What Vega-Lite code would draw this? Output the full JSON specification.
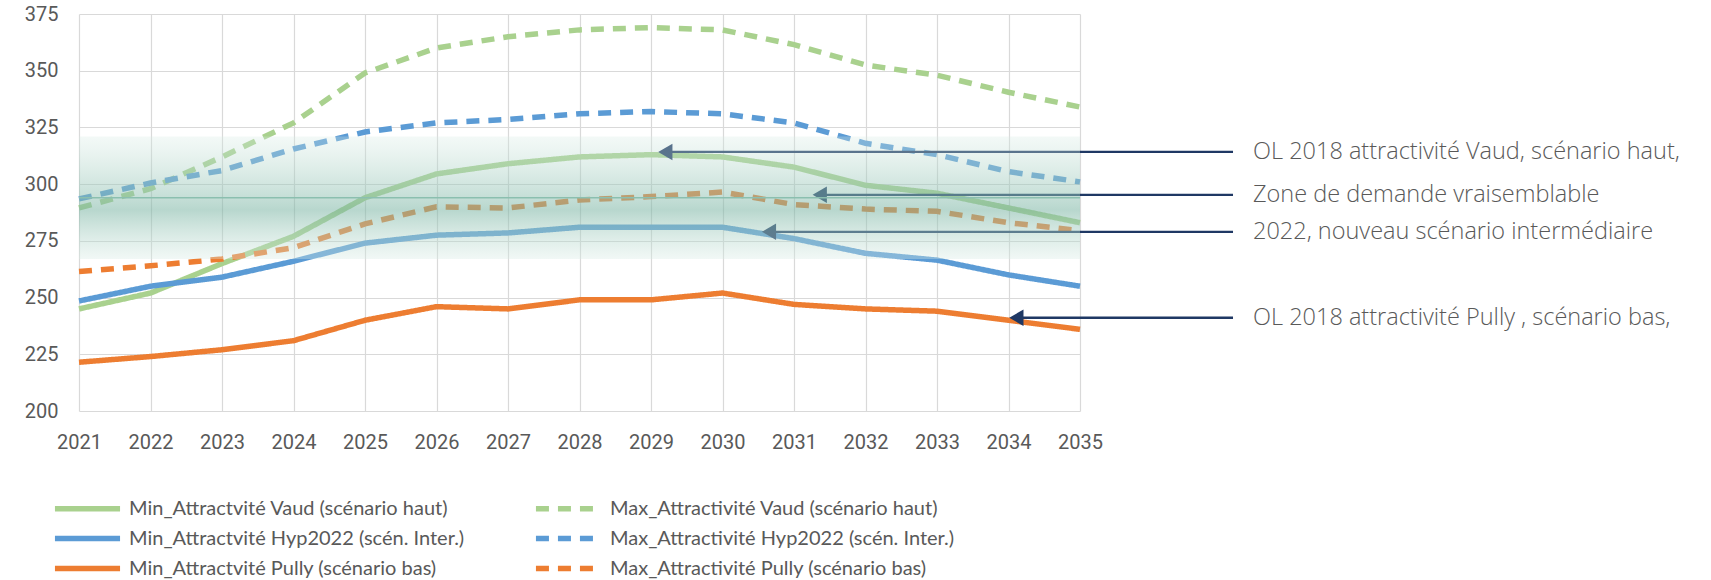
{
  "$schema": "https://vega.github.io/schema/vega-lite/v6.json",
  "width": 1001,
  "height": 397,
  "autosize": "none",
  "padding": {"left": 79, "top": 14, "right": 631, "bottom": 169},
  "background": "white",
  "config": {
    "view": {"stroke": null},
    "font": "Roboto",
    "axis": {
      "grid": true,
      "gridColor": "#D9D9D9",
      "gridWidth": 1.2,
      "domain": false,
      "ticks": false,
      "labelFont": "Roboto",
      "labelFontSize": 20,
      "labelColor": "#595959",
      "title": null
    }
  },
  "datasets": {
    "series": [
      {"year": 2021, "series": "Min_Attractvité Vaud (scénario haut)", "value": 245},
      {"year": 2022, "series": "Min_Attractvité Vaud (scénario haut)", "value": 252},
      {"year": 2023, "series": "Min_Attractvité Vaud (scénario haut)", "value": 265},
      {"year": 2024, "series": "Min_Attractvité Vaud (scénario haut)", "value": 277},
      {"year": 2025, "series": "Min_Attractvité Vaud (scénario haut)", "value": 294},
      {"year": 2026, "series": "Min_Attractvité Vaud (scénario haut)", "value": 304.5},
      {"year": 2027, "series": "Min_Attractvité Vaud (scénario haut)", "value": 309},
      {"year": 2028, "series": "Min_Attractvité Vaud (scénario haut)", "value": 312},
      {"year": 2029, "series": "Min_Attractvité Vaud (scénario haut)", "value": 313},
      {"year": 2030, "series": "Min_Attractvité Vaud (scénario haut)", "value": 312},
      {"year": 2031, "series": "Min_Attractvité Vaud (scénario haut)", "value": 307.5},
      {"year": 2032, "series": "Min_Attractvité Vaud (scénario haut)", "value": 299.5},
      {"year": 2033, "series": "Min_Attractvité Vaud (scénario haut)", "value": 296},
      {"year": 2034, "series": "Min_Attractvité Vaud (scénario haut)", "value": 289.5},
      {"year": 2035, "series": "Min_Attractvité Vaud (scénario haut)", "value": 283},

      {"year": 2021, "series": "Max_Attractivité Vaud (scénario haut)", "value": 289.5},
      {"year": 2022, "series": "Max_Attractivité Vaud (scénario haut)", "value": 298},
      {"year": 2023, "series": "Max_Attractivité Vaud (scénario haut)", "value": 312},
      {"year": 2024, "series": "Max_Attractivité Vaud (scénario haut)", "value": 327},
      {"year": 2025, "series": "Max_Attractivité Vaud (scénario haut)", "value": 349},
      {"year": 2026, "series": "Max_Attractivité Vaud (scénario haut)", "value": 360},
      {"year": 2027, "series": "Max_Attractivité Vaud (scénario haut)", "value": 365},
      {"year": 2028, "series": "Max_Attractivité Vaud (scénario haut)", "value": 368},
      {"year": 2029, "series": "Max_Attractivité Vaud (scénario haut)", "value": 369},
      {"year": 2030, "series": "Max_Attractivité Vaud (scénario haut)", "value": 368},
      {"year": 2031, "series": "Max_Attractivité Vaud (scénario haut)", "value": 361.5},
      {"year": 2032, "series": "Max_Attractivité Vaud (scénario haut)", "value": 352.5},
      {"year": 2033, "series": "Max_Attractivité Vaud (scénario haut)", "value": 348},
      {"year": 2034, "series": "Max_Attractivité Vaud (scénario haut)", "value": 340.5},
      {"year": 2035, "series": "Max_Attractivité Vaud (scénario haut)", "value": 334},

      {"year": 2021, "series": "Min_Attractvité Hyp2022 (scén. Inter.)", "value": 248.5},
      {"year": 2022, "series": "Min_Attractvité Hyp2022 (scén. Inter.)", "value": 255},
      {"year": 2023, "series": "Min_Attractvité Hyp2022 (scén. Inter.)", "value": 259},
      {"year": 2024, "series": "Min_Attractvité Hyp2022 (scén. Inter.)", "value": 266},
      {"year": 2025, "series": "Min_Attractvité Hyp2022 (scén. Inter.)", "value": 274},
      {"year": 2026, "series": "Min_Attractvité Hyp2022 (scén. Inter.)", "value": 277.5},
      {"year": 2027, "series": "Min_Attractvité Hyp2022 (scén. Inter.)", "value": 278.5},
      {"year": 2028, "series": "Min_Attractvité Hyp2022 (scén. Inter.)", "value": 281},
      {"year": 2029, "series": "Min_Attractvité Hyp2022 (scén. Inter.)", "value": 281},
      {"year": 2030, "series": "Min_Attractvité Hyp2022 (scén. Inter.)", "value": 281},
      {"year": 2031, "series": "Min_Attractvité Hyp2022 (scén. Inter.)", "value": 276},
      {"year": 2032, "series": "Min_Attractvité Hyp2022 (scén. Inter.)", "value": 269.5},
      {"year": 2033, "series": "Min_Attractvité Hyp2022 (scén. Inter.)", "value": 266.5},
      {"year": 2034, "series": "Min_Attractvité Hyp2022 (scén. Inter.)", "value": 260},
      {"year": 2035, "series": "Min_Attractvité Hyp2022 (scén. Inter.)", "value": 255},

      {"year": 2021, "series": "Max_Attractivité Hyp2022 (scén. Inter.)", "value": 293.5},
      {"year": 2022, "series": "Max_Attractivité Hyp2022 (scén. Inter.)", "value": 300.5},
      {"year": 2023, "series": "Max_Attractivité Hyp2022 (scén. Inter.)", "value": 306},
      {"year": 2024, "series": "Max_Attractivité Hyp2022 (scén. Inter.)", "value": 315.5},
      {"year": 2025, "series": "Max_Attractivité Hyp2022 (scén. Inter.)", "value": 323},
      {"year": 2026, "series": "Max_Attractivité Hyp2022 (scén. Inter.)", "value": 327},
      {"year": 2027, "series": "Max_Attractivité Hyp2022 (scén. Inter.)", "value": 328.5},
      {"year": 2028, "series": "Max_Attractivité Hyp2022 (scén. Inter.)", "value": 331},
      {"year": 2029, "series": "Max_Attractivité Hyp2022 (scén. Inter.)", "value": 332},
      {"year": 2030, "series": "Max_Attractivité Hyp2022 (scén. Inter.)", "value": 331},
      {"year": 2031, "series": "Max_Attractivité Hyp2022 (scén. Inter.)", "value": 327},
      {"year": 2032, "series": "Max_Attractivité Hyp2022 (scén. Inter.)", "value": 318},
      {"year": 2033, "series": "Max_Attractivité Hyp2022 (scén. Inter.)", "value": 313},
      {"year": 2034, "series": "Max_Attractivité Hyp2022 (scén. Inter.)", "value": 305.5},
      {"year": 2035, "series": "Max_Attractivité Hyp2022 (scén. Inter.)", "value": 301},

      {"year": 2021, "series": "Min_Attractvité Pully (scénario bas)", "value": 221.5},
      {"year": 2022, "series": "Min_Attractvité Pully (scénario bas)", "value": 224},
      {"year": 2023, "series": "Min_Attractvité Pully (scénario bas)", "value": 227},
      {"year": 2024, "series": "Min_Attractvité Pully (scénario bas)", "value": 231},
      {"year": 2025, "series": "Min_Attractvité Pully (scénario bas)", "value": 240},
      {"year": 2026, "series": "Min_Attractvité Pully (scénario bas)", "value": 246},
      {"year": 2027, "series": "Min_Attractvité Pully (scénario bas)", "value": 245},
      {"year": 2028, "series": "Min_Attractvité Pully (scénario bas)", "value": 249},
      {"year": 2029, "series": "Min_Attractvité Pully (scénario bas)", "value": 249},
      {"year": 2030, "series": "Min_Attractvité Pully (scénario bas)", "value": 252},
      {"year": 2031, "series": "Min_Attractvité Pully (scénario bas)", "value": 247},
      {"year": 2032, "series": "Min_Attractvité Pully (scénario bas)", "value": 245},
      {"year": 2033, "series": "Min_Attractvité Pully (scénario bas)", "value": 244},
      {"year": 2034, "series": "Min_Attractvité Pully (scénario bas)", "value": 240},
      {"year": 2035, "series": "Min_Attractvité Pully (scénario bas)", "value": 236},

      {"year": 2021, "series": "Max_Attractivité Pully (scénario bas)", "value": 261.5},
      {"year": 2022, "series": "Max_Attractivité Pully (scénario bas)", "value": 264},
      {"year": 2023, "series": "Max_Attractivité Pully (scénario bas)", "value": 267},
      {"year": 2024, "series": "Max_Attractivité Pully (scénario bas)", "value": 272},
      {"year": 2025, "series": "Max_Attractivité Pully (scénario bas)", "value": 282.5},
      {"year": 2026, "series": "Max_Attractivité Pully (scénario bas)", "value": 290},
      {"year": 2027, "series": "Max_Attractivité Pully (scénario bas)", "value": 289.5},
      {"year": 2028, "series": "Max_Attractivité Pully (scénario bas)", "value": 293},
      {"year": 2029, "series": "Max_Attractivité Pully (scénario bas)", "value": 294.5},
      {"year": 2030, "series": "Max_Attractivité Pully (scénario bas)", "value": 296.5},
      {"year": 2031, "series": "Max_Attractivité Pully (scénario bas)", "value": 291},
      {"year": 2032, "series": "Max_Attractivité Pully (scénario bas)", "value": 289},
      {"year": 2033, "series": "Max_Attractivité Pully (scénario bas)", "value": 288},
      {"year": 2034, "series": "Max_Attractivité Pully (scénario bas)", "value": 283},
      {"year": 2035, "series": "Max_Attractivité Pully (scénario bas)", "value": 279.5}
    ],
    "band": [
      {"year": 2021, "year2": 2035, "value": 321, "value2": 267}
    ],
    "zoneLine": [
      {"year": 2021, "year2": 2035, "value": 294}
    ],
    "arrows": [
      {"year": 2029.2, "year2": 2037.14, "value": 314.2},
      {"year": 2031.36, "year2": 2037.14, "value": 295.3},
      {"year": 2030.65, "year2": 2037.14, "value": 279.0},
      {"year": 2034.11, "year2": 2037.14, "value": 241.1}
    ],
    "texts": [
      {"year": 2037.42, "value": 314.2, "label": "OL 2018 attractivité Vaud, scénario haut,"},
      {"year": 2037.42, "value": 295.3, "label": "Zone de demande vraisemblable"},
      {"year": 2037.42, "value": 279.0, "label": "2022, nouveau scénario intermédiaire"},
      {"year": 2037.42, "value": 241.1, "label": "OL 2018 attractivité Pully , scénario bas,"}
    ]
  },
  "layer": [
    {
      "data": {"name": "series"},
      "mark": {"type": "line", "strokeCap": "butt"},
      "encoding": {
        "x": {
          "field": "year", "type": "quantitative",
          "scale": {"domain": [2021, 2035], "nice": false, "zero": false},
          "axis": {"values": [2021,2022,2023,2024,2025,2026,2027,2028,2029,2030,2031,2032,2033,2034,2035], "format": "d", "labelPadding": 21, "labelFlush": false, "labelOverlap": false}
        },
        "y": {
          "field": "value", "type": "quantitative",
          "scale": {"domain": [200, 375], "nice": false, "zero": false},
          "axis": {"values": [200,225,250,275,300,325,350,375], "labelPadding": 21, "labelFlush": false}
        },
        "color": {
          "field": "series", "type": "nominal",
          "scale": {
            "domain": ["Min_Attractvité Vaud (scénario haut)", "Min_Attractvité Hyp2022 (scén. Inter.)", "Min_Attractvité Pully (scénario bas)", "Max_Attractivité Vaud (scénario haut)", "Max_Attractivité Hyp2022 (scén. Inter.)", "Max_Attractivité Pully (scénario bas)"],
            "range": ["#A9D18E", "#5B9BD5", "#ED7D31", "#A9D18E", "#5B9BD5", "#ED7D31"]
          },
          "legend": {
            "orient": "none", "legendX": -10, "legendY": 476, "columns": 2, "padding": 0,
            "title": null, "symbolType": "M-2.1,0H2.1", "symbolSize": 961,
            "labelFont": "Lato", "labelFontSize": 20, "labelColor": "#595959",
            "labelLimit": 0, "columnPadding": 59, "rowPadding": 0, "labelOffset": 23
          }
        },
        "strokeDash": {
          "field": "series", "type": "nominal",
          "scale": {
            "domain": ["Min_Attractvité Vaud (scénario haut)", "Min_Attractvité Hyp2022 (scén. Inter.)", "Min_Attractvité Pully (scénario bas)", "Max_Attractivité Vaud (scénario haut)", "Max_Attractivité Hyp2022 (scén. Inter.)", "Max_Attractivité Pully (scénario bas)"],
            "range": [[1, 0], [1, 0], [1, 0], [13, 9], [13, 9], [13, 9]]
          }
        },
        "strokeWidth": {
          "field": "series", "type": "nominal",
          "scale": {
            "domain": ["Min_Attractvité Vaud (scénario haut)", "Min_Attractvité Hyp2022 (scén. Inter.)", "Min_Attractvité Pully (scénario bas)", "Max_Attractivité Vaud (scénario haut)", "Max_Attractivité Hyp2022 (scén. Inter.)", "Max_Attractivité Pully (scénario bas)"],
            "range": [5.5, 5.5, 5.5, 3.2, 3.2, 3.2]
          }
        }
      }
    },
    {
      "data": {"name": "arrows"},
      "mark": {"type": "rule", "color": "#1F3864", "strokeWidth": 2.3},
      "encoding": {
        "x": {"field": "year", "type": "quantitative"},
        "x2": {"field": "year2"},
        "y": {"field": "value", "type": "quantitative"}
      }
    },
    {
      "data": {"name": "arrows"},
      "mark": {"type": "point", "shape": "triangle-left", "filled": true, "size": 270, "color": "#1F3864", "opacity": 1},
      "encoding": {
        "x": {"field": "year", "type": "quantitative"},
        "y": {"field": "value", "type": "quantitative"}
      }
    },
    {
      "data": {"name": "band"},
      "mark": {
        "type": "rect",
        "color": {
          "gradient": "linear", "x1": 0, "y1": 0, "x2": 0, "y2": 1,
          "stops": [
            {"offset": 0, "color": "rgba(215,235,228,0.3)"},
            {"offset": 0.6, "color": "rgba(125,182,165,0.55)"},
            {"offset": 1, "color": "rgba(215,235,228,0.35)"}
          ]
        }
      },
      "encoding": {
        "x": {"field": "year", "type": "quantitative"},
        "x2": {"field": "year2"},
        "y": {"field": "value", "type": "quantitative"},
        "y2": {"field": "value2"}
      }
    },
    {
      "data": {"name": "zoneLine"},
      "mark": {"type": "rule", "color": "#8BBFAF", "strokeWidth": 1.4},
      "encoding": {
        "x": {"field": "year", "type": "quantitative"},
        "x2": {"field": "year2"},
        "y": {"field": "value", "type": "quantitative"}
      }
    },
    {
      "data": {"name": "texts"},
      "mark": {"type": "text", "align": "left", "baseline": "middle", "font": "Open Sans", "fontWeight": 300, "fontSize": 23.5, "color": "#595959"},
      "encoding": {
        "x": {"field": "year", "type": "quantitative"},
        "y": {"field": "value", "type": "quantitative"},
        "text": {"field": "label"}
      }
    }
  ]
}
